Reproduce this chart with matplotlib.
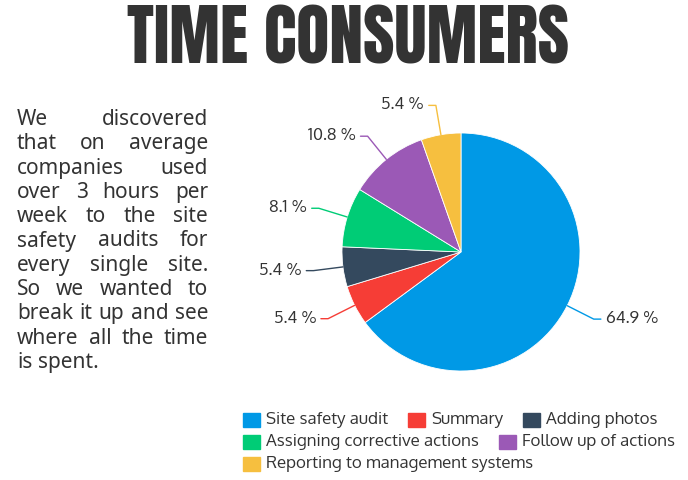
import matplotlib
matplotlib.use('Agg')
import numpy as np
import matplotlib.pyplot as plt
from matplotlib.patches import Rectangle
from matplotlib.transforms import Bbox

W, H = 688, 480

categories = ['Site safety audit', 'Summary', 'Adding photos',
              'Assigning corrective actions', 'Follow up of actions',
              'Reporting to management systems']
shares = [64.9, 5.4, 5.4, 8.1, 10.8, 5.4]
colors = ['#0099e6', '#f63d36', '#34495e', '#00cc76', '#9b59b6', '#f6bf3f']

title = 'TIME CONSUMERS'
paragraph = ['We discovered', 'that on average', 'companies used', 'over 3 hours per',
             'week to the site', 'safety audits for', 'every single site.',
             'So we wanted to', 'break it up and see', 'where all the time', 'is spent.']

text_col = '#333333'


def px(x, y):
    # pixel position from top-left -> figure fraction
    return x / W, 1 - y / H


fig = plt.figure(figsize=(W / 100, H / 100), dpi=100)
renderer = fig.canvas.get_renderer()

# title
fig.text(*px(348, 63), title, family='Anton', fontsize=49, color=text_col,
         ha='center', va='baseline')

# justified paragraph, clipped at the column edge like the original text box
left, right = 17, 208
fs = 15
space = 0.26 * fs * 100 / 72
clip = Bbox([[left - 5, 0], [right, H]])
for i, line in enumerate(paragraph):
    yb = 125 + 24.3 * i
    words = line.split()
    items = [fig.text(0, 0, w, family='Noto Sans', fontsize=fs, color=text_col, va='baseline')
             for w in words]
    widths = [t.get_window_extent(renderer).width for t in items]
    if i == len(paragraph) - 1 or len(words) == 1:
        gap = space
    else:
        gap = max(space, (right - left - sum(widths)) / (len(words) - 1))
    x = left
    for t, w in zip(items, widths):
        t.set_position(px(x, yb))
        t.set_clip_box(clip)
        t.set_clip_on(True)
        x += w + gap

# pie
cx, cy, r = 461, 252, 119
half = 200
ax = fig.add_axes([(cx - half) / W, (H - cy - half) / H, 2 * half / W, 2 * half / H])
wedges, _ = ax.pie(shares, colors=colors, startangle=90, counterclock=False, radius=1,
                   wedgeprops=dict(edgecolor='white', linewidth=0.6))
lim = half / r
ax.set_xlim(-lim, lim)
ax.set_ylim(-lim, lim)
ax.set_aspect('equal')
ax.axis('off')

for wdg, val, col in zip(wedges, shares, colors):
    a = np.deg2rad((wdg.theta1 + wdg.theta2) / 2)
    c, s = np.cos(a), np.sin(a)
    x1, y1 = 1.25 * c, 1.25 * s
    sgn = 1 if c > 0 else -1
    x2 = x1 + sgn * 0.06
    ax.plot([c, x1, x2], [s, y1, y1], color=col, lw=1, solid_capstyle='round')
    ax.text(x2 + sgn * 0.04, y1, f'{val} %', family='Oxygen', fontsize=12, color=text_col,
            ha='left' if sgn > 0 else 'right', va='center')

# legend laid out as a flowing row of items
lx0, lmax = 243, 684
row_y = [420, 442, 464]
sq_w, sq_h, sq_gap, item_gap = 17, 14, 6, 20
row = 0
x = lx0
for cat, col in zip(categories, colors):
    t = fig.text(0, 0, cat, family='Oxygen', fontsize=12.2, color=text_col, va='center')
    tw = t.get_window_extent(renderer).width
    if x > lx0 and x + sq_w + sq_gap + tw > lmax:
        row += 1
        x = lx0
    yc = row_y[row]
    fig.patches.append(Rectangle(px(x, yc + sq_h / 2), sq_w / W, sq_h / H,
                                 transform=fig.transFigure, color=col))
    t.set_position(px(x + sq_w + sq_gap, yc))
    x += sq_w + sq_gap + tw + item_gap

fig.savefig('out.png')
